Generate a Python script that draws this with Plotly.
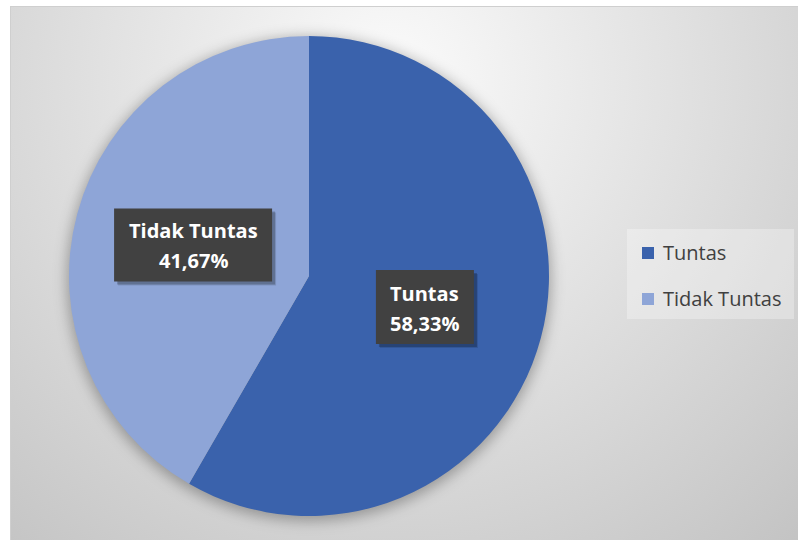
import base64
import math
import plotly.graph_objects as go

# ---- data -------------------------------------------------------------
labels = ["Tuntas", "Tidak Tuntas"]
values = [58.33, 41.67]
colors = ["#3A62AC", "#8EA5D7"]

# ---- canvas geometry (pixels) -----------------------------------------
W, H = 798, 540
CX, CY, R = 309, 276, 240          # pie centre and radius
FRAME_X, FRAME_Y = 10, 6           # top-left corner of the chart frame


def px(x):
    return x / W


def py(y):
    return 1 - y / H


# background: radial grey gradient plus a soft shadow under the pie
svg = f"""<svg xmlns='http://www.w3.org/2000/svg' width='{W - FRAME_X}' height='{H - FRAME_Y}'>
<defs>
<radialGradient id='g' cx='{390 - FRAME_X}' cy='{80 - FRAME_Y}' r='620' gradientUnits='userSpaceOnUse'>
<stop offset='0' stop-color='#fbfbfb'/>
<stop offset='0.45' stop-color='#e2e2e2'/>
<stop offset='1' stop-color='#c3c3c3'/>
</radialGradient>
<filter id='b' x='-20%' y='-20%' width='140%' height='140%'><feGaussianBlur stdDeviation='7'/></filter>
</defs>
<rect x='0.5' y='0.5' width='{W - FRAME_X}' height='{H - FRAME_Y}' fill='url(#g)' stroke='#cfcfcf'/>
<circle cx='{CX - FRAME_X}' cy='{CY - FRAME_Y + 3}' r='{R + 2}' fill='rgba(0,0,0,0.30)' filter='url(#b)'/>
</svg>"""
bg_src = "data:image/svg+xml;base64," + base64.b64encode(svg.encode()).decode()

fig = go.Figure(
    go.Pie(
        labels=labels,
        values=values,
        marker=dict(colors=colors, line=dict(width=0)),
        sort=False,
        direction="clockwise",
        rotation=0,
        textinfo="none",
        hovertemplate="%{label}: %{percent}<extra></extra>",
        showlegend=False,
        domain=dict(x=[px(CX - R), px(CX + R)], y=[py(CY + R), py(CY - R)]),
    )
)

# ---- data labels: dark boxes at half radius on each slice's mid angle --
total = sum(values)
box_sizes = {"Tuntas": (98, 74), "Tidak Tuntas": (158, 73)}
annotations = []
shapes = []
cum = 0.0
for lab, val in zip(labels, values):
    mid = (cum + val / 2) / total * 2 * math.pi
    cum += val
    lx = CX + 0.5 * R * math.sin(mid)
    ly = CY - 0.5 * R * math.cos(mid)
    bw, bh = box_sizes[lab]
    pct = f"{val / total * 100:.2f}".replace(".", ",") + "%"
    # soft drop shadow
    for off, alpha in ((4, 0.12), (3, 0.22)):
        shapes.append(dict(
            type="rect", xref="paper", yref="paper", layer="above",
            x0=px(lx - bw / 2 + off), x1=px(lx + bw / 2 + off),
            y0=py(ly + bh / 2 + off), y1=py(ly - bh / 2 + off),
            fillcolor=f"rgba(0,0,0,{alpha})", line=dict(width=0),
        ))
    shapes.append(dict(
        type="rect", xref="paper", yref="paper", layer="above",
        x0=px(lx - bw / 2), x1=px(lx + bw / 2),
        y0=py(ly + bh / 2), y1=py(ly - bh / 2),
        fillcolor="#414141", line=dict(width=0),
    ))
    for txt, dy in ((lab, -14), (pct, 16)):
        annotations.append(dict(
            x=px(lx), y=py(ly + dy), xref="paper", yref="paper",
            text=f"<b>{txt}</b>", showarrow=False,
            xanchor="center", yanchor="middle",
            font=dict(family="'Open Sans', 'Noto Sans', sans-serif", size=20, color="white"),
        ))

# ---- legend panel --------------------------------------------------------
LEG_X0, LEG_X1, LEG_Y0, LEG_Y1 = 627, 794, 229, 319
shapes.append(dict(
    type="rect", xref="paper", yref="paper", layer="above",
    x0=px(LEG_X0), x1=px(LEG_X1), y0=py(LEG_Y1), y1=py(LEG_Y0),
    fillcolor="rgba(255,255,255,0.30)", line=dict(width=0),
))
for i, (lab, col) in enumerate(zip(labels, colors)):
    yc = 253 + i * 46
    shapes.append(dict(
        type="rect", xref="paper", yref="paper", layer="above",
        x0=px(642), x1=px(654), y0=py(yc + 6), y1=py(yc - 6),
        fillcolor=col, line=dict(width=0),
    ))
    annotations.append(dict(
        x=px(661), y=py(yc - 1), xref="paper", yref="paper",
        text=lab, showarrow=False, xanchor="left", yanchor="middle",
        font=dict(family="'Open Sans', 'Noto Sans', sans-serif", size=20, color="#404040"),
    ))

fig.update_layout(
    width=W, height=H,
    margin=dict(l=0, r=0, t=0, b=0),
    paper_bgcolor="white",
    plot_bgcolor="white",
    showlegend=False,
    shapes=shapes,
    annotations=annotations,
    images=[dict(
        source=bg_src, xref="paper", yref="paper",
        x=px(FRAME_X), y=py(FRAME_Y), sizex=(W - FRAME_X) / W, sizey=(H - FRAME_Y) / H,
        xanchor="left", yanchor="top", sizing="stretch", layer="below",
    )],
)

fig.write_html("out.html")
